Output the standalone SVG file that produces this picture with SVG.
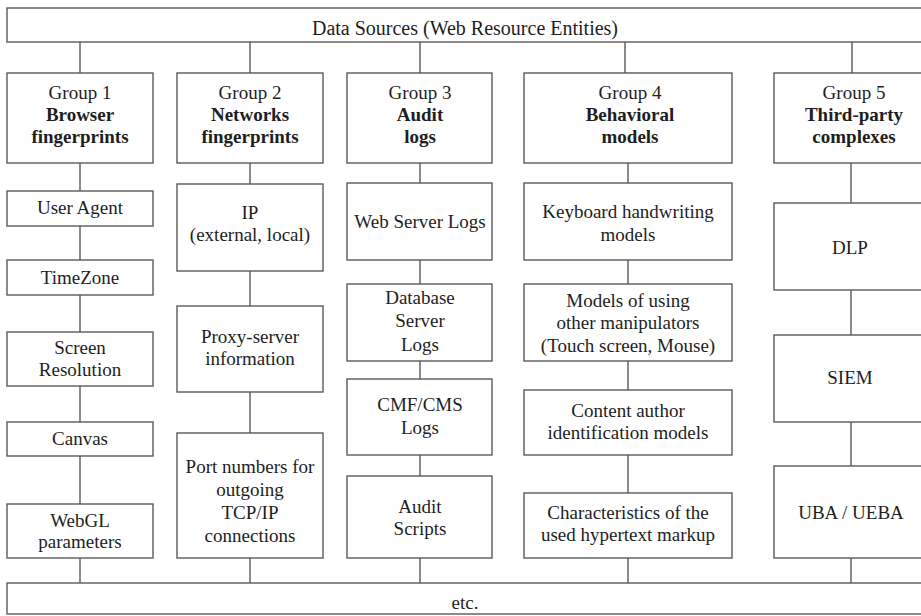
<svg xmlns="http://www.w3.org/2000/svg" width="921" height="616" viewBox="0 0 921 616">
<style>
rect{fill:#fff;stroke:#5a5a5a;stroke-width:1.4}
line{stroke:#5a5a5a;stroke-width:1.4}
text{font-size:19px;fill:#1e1e1e;text-anchor:middle}
.b{font-weight:bold}
.t{font-size:20px}
</style>
<rect x="0" y="0" width="921" height="616" style="fill:#fff;stroke:none"/>
<g id="connectors">
<line x1="80" y1="42" x2="80" y2="73"/>
<line x1="250" y1="42" x2="250" y2="73"/>
<line x1="420" y1="42" x2="420" y2="73"/>
<line x1="625" y1="42" x2="625" y2="73"/>
<line x1="852" y1="42" x2="852" y2="73"/>
<line x1="80" y1="163" x2="80" y2="583"/>
<line x1="250" y1="163" x2="250" y2="583"/>
<line x1="420" y1="163" x2="420" y2="583"/>
<line x1="628" y1="163" x2="628" y2="583"/>
<line x1="851" y1="163" x2="851" y2="583"/>
</g>
<g font-family="'Liberation Serif', 'Times New Roman', serif">
<g id="sources"><rect x="7" y="8" width="925" height="34"/><text class="t" x="465" y="35">Data Sources (Web Resource Entities)</text></g>
<g id="etc"><rect x="7" y="583" width="925" height="31"/><text x="465" y="609">etc.</text></g>
<g id="group1"><rect x="7" y="73" width="146" height="90"/><text x="80" y="99">Group 1</text><text class="b" x="80" y="121">Browser</text><text class="b" x="80" y="143">fingerprints</text></g>
<g id="group2"><rect x="177" y="73" width="146" height="90"/><text x="250" y="99">Group 2</text><text class="b" x="250" y="121">Networks</text><text class="b" x="250" y="143">fingerprints</text></g>
<g id="group3"><rect x="347" y="73" width="145" height="90"/><text x="420" y="99">Group 3</text><text class="b" x="420" y="121">Audit</text><text class="b" x="420" y="143">logs</text></g>
<g id="group4"><rect x="524" y="73" width="208" height="90"/><text x="630" y="99">Group 4</text><text class="b" x="630" y="121">Behavioral</text><text class="b" x="630" y="143">models</text></g>
<g id="group5"><rect x="774" y="73" width="158" height="90"/><text x="854" y="99">Group 5</text><text class="b" x="854" y="121">Third-party</text><text class="b" x="854" y="143">complexes</text></g>
<g id="useragent"><rect x="7" y="191" width="146" height="35"/><text x="80" y="214">User Agent</text></g>
<g id="timezone"><rect x="7" y="260" width="146" height="35"/><text x="80" y="284">TimeZone</text></g>
<g id="screen"><rect x="7" y="332" width="146" height="54"/><text x="80" y="354">Screen</text><text x="80" y="376">Resolution</text></g>
<g id="canvas"><rect x="7" y="422" width="146" height="34"/><text x="80" y="445">Canvas</text></g>
<g id="webgl"><rect x="7" y="504" width="146" height="54"/><text x="80" y="527">WebGL</text><text x="80" y="548">parameters</text></g>
<g id="ip"><rect x="177" y="184" width="146" height="87"/><text x="250" y="219">IP</text><text x="250" y="241">(external, local)</text></g>
<g id="proxy"><rect x="177" y="306" width="146" height="86"/><text x="250" y="343">Proxy-server</text><text x="250" y="365">information</text></g>
<g id="ports"><rect x="177" y="433" width="146" height="125"/><text x="250" y="473">Port numbers for</text><text x="250" y="496">outgoing</text><text x="250" y="519">TCP/IP</text><text x="250" y="542">connections</text></g>
<g id="weblogs"><rect x="347" y="183" width="145" height="77"/><text x="420" y="228">Web Server Logs</text></g>
<g id="dblogs"><rect x="347" y="284" width="145" height="77"/><text x="420" y="304">Database</text><text x="420" y="327">Server</text><text x="420" y="351">Logs</text></g>
<g id="cmslogs"><rect x="347" y="379" width="145" height="76"/><text x="420" y="411">CMF/CMS</text><text x="420" y="434">Logs</text></g>
<g id="auditscripts"><rect x="347" y="476" width="145" height="82"/><text x="420" y="513">Audit</text><text x="420" y="535">Scripts</text></g>
<g id="keyboard"><rect x="524" y="183" width="208" height="77"/><text x="628" y="218">Keyboard handwriting</text><text x="628" y="241">models</text></g>
<g id="manipulators"><rect x="524" y="284" width="208" height="77"/><text x="628" y="307">Models of using</text><text x="628" y="329">other manipulators</text><text x="628" y="352">(Touch screen, Mouse)</text></g>
<g id="author"><rect x="524" y="390" width="208" height="65"/><text x="628" y="417">Content author</text><text x="628" y="439">identification models</text></g>
<g id="markup"><rect x="524" y="493" width="208" height="65"/><text x="628" y="519">Characteristics of the</text><text x="628" y="541">used hypertext markup</text></g>
<g id="dlp"><rect x="774" y="203" width="158" height="87"/><text x="850" y="254">DLP</text></g>
<g id="siem"><rect x="774" y="335" width="158" height="87"/><text x="850" y="384">SIEM</text></g>
<g id="uba"><rect x="774" y="466" width="158" height="92"/><text x="851" y="519">UBA / UEBA</text></g>
</g>
</svg>
